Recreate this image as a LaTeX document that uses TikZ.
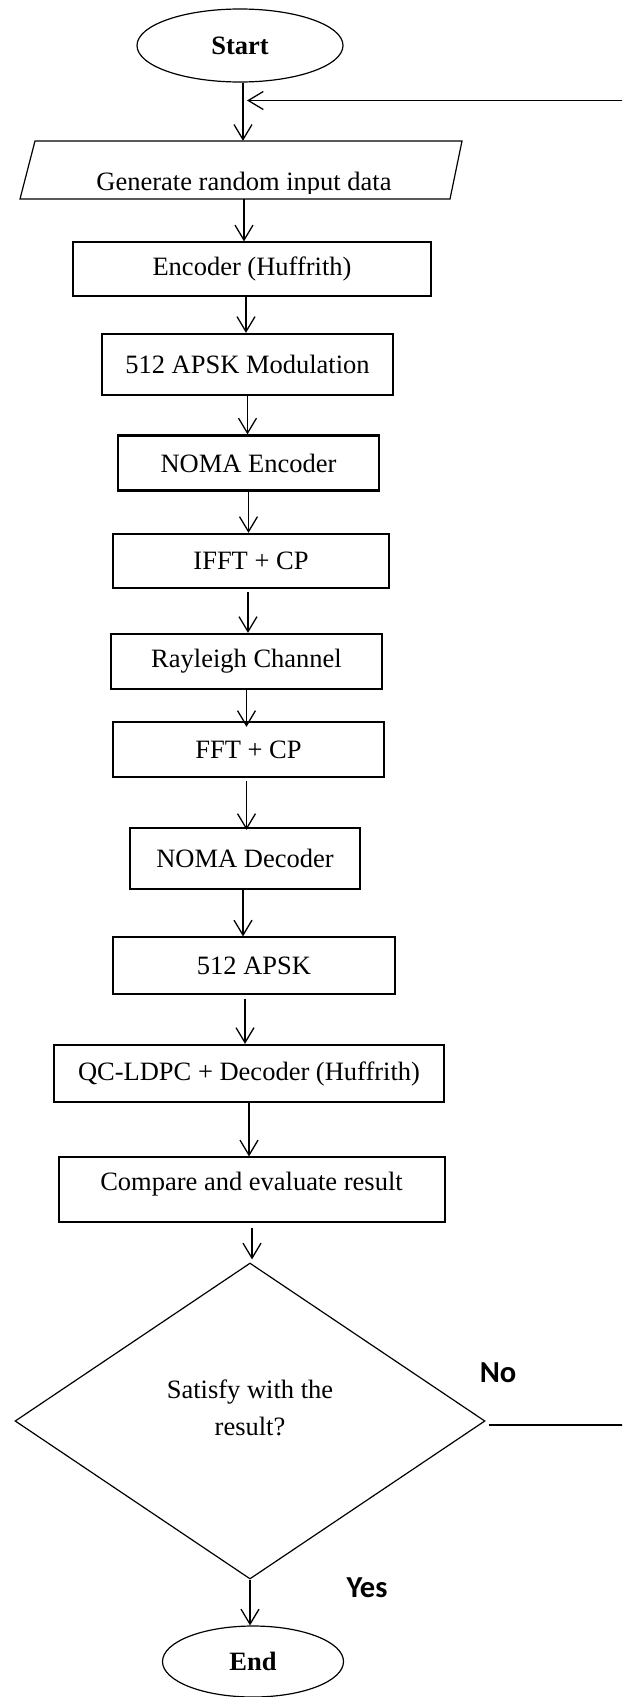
\documentclass[tikz,border=0pt]{standalone}
\usepackage{fontspec}
\setmainfont{Liberation Serif}
\newfontfamily\lblfont{Carlito}
\usetikzlibrary{arrows.meta,shapes.geometric}
\begin{document}
\begin{tikzpicture}[x=1pt,y=-1pt,
  txt/.style={font=\fontsize{26.5}{37}\selectfont},
  thinbox/.style={draw,line width=1.2pt,inner sep=0pt,txt},
  thickbox/.style={draw,line width=2.2pt,inner sep=0pt,txt},
  term/.style={ellipse,draw,line width=1.2pt,inner sep=0pt,font=\bfseries\fontsize{26.5}{30}\selectfont},
  arr/.style={line width=1.3pt,-{Straight Barb[length=15pt,width=18pt]}},
  lbl/.style={font=\lblfont\bfseries\fontsize{30.5}{36}\selectfont}]
\useasboundingbox (0,0) rectangle (622,1697);
\clip (0,0) rectangle (622,1697);

% terminals
\node[term,minimum width=206pt,minimum height=73pt] (start) at (240,45.5) {Start};
\node[term,minimum width=181pt,minimum height=71pt] (end) at (253,1661.5) {End};

% input parallelogram
\node[inner sep=0pt,minimum width=427pt,minimum height=58pt] (gen) at (244,170) {};
\draw[line width=1.2pt] (35,141) -- (462,141) -- (450,199) -- (20,199) -- cycle;
\begin{scope}
  \clip (0,141) rectangle (622,193);
  \node[txt,anchor=base] (gentext) at (244,190) {Generate random input data};
\end{scope}

% process boxes
\node[thinbox, minimum width=358pt,minimum height=54pt] (enc)  at (252,269)    {Encoder (Huffrith)};
\node[thickbox,minimum width=291pt,minimum height=61pt] (mod)  at (247.5,364.5) {512 APSK Modulation};
\node[thickbox,minimum width=261pt,minimum height=55pt] (nenc) at (248.5,463)  {NOMA Encoder};
\node[thickbox,minimum width=276pt,minimum height=54pt] (ifft) at (251,561)    {IFFT + CP};
\node[thickbox,minimum width=271pt,minimum height=55pt] (ray)  at (246.5,661.5) {Rayleigh Channel};
\node[thickbox,minimum width=271pt,minimum height=55pt] (fft)  at (248.5,749.5) {FFT + CP};
\node[thickbox,minimum width=230pt,minimum height=61pt] (ndec) at (245,858.5)  {NOMA Decoder};
\node[thinbox, minimum width=282pt,minimum height=57pt] (apsk) at (254,965.5)  {512 APSK};
\node[thickbox,minimum width=390pt,minimum height=57pt] (qc)   at (249,1073.5) {QC-LDPC + Decoder (Huffrith)};
\node[thinbox, minimum width=386pt,minimum height=65pt] (cmp)  at (252,1189.5) {};
\node[txt] (cmptext) at (251.5,1184) {Compare and evaluate result};

% decision
\node[diamond,draw,line width=1.2pt,inner sep=0pt,minimum width=470pt,minimum height=316pt] (dia) at (250,1421) {};
\node[txt,align=center] (diatext) at (250,1408) {Satisfy with the\\result?};

% labels
\node[lbl] (no) at (498,1373) {No};
\node[lbl] (yes) at (367,1588) {Yes};

% connectors
\draw[arr] ([xshift=3pt]start.south) -- ([xshift=3pt]start.south |- gen.north);
\draw[arr] (gen.south) -- (gen.south |- enc.north);
\draw[arr] ([xshift=-6pt]enc.south) -- ([xshift=-6pt]enc.south |- mod.north);
\draw[arr] (mod.south) -- (mod.south |- nenc.north);
\draw[arr] (nenc.south) -- (nenc.south |- ifft.north);
\draw[arr,shorten <=3pt] ([xshift=-3pt]ifft.south) -- ([xshift=-3pt]ifft.south |- ray.north);
\draw[arr,shorten >=-6pt] (ray.south) -- (ray.south |- fft.north);
\draw[arr,shorten <=3pt,shorten >=-3pt] ([xshift=-2pt]fft.south) -- ([xshift=-2pt]fft.south |- ndec.north);
\draw[arr] ([xshift=-2pt]ndec.south) -- ([xshift=-2pt]ndec.south |- apsk.north);
\draw[arr,shorten <=4pt] ([xshift=-9pt]apsk.south) -- ([xshift=-9pt]apsk.south |- qc.north);
\draw[arr] (qc.south) -- (qc.south |- cmp.north);
\draw[arr,shorten <=5pt,shorten >=3pt] (cmp.south) -- (cmp.south |- dia.north);
\draw[arr] (dia.south) -- (dia.south |- end.north);

% feedback loop (vertical part lies outside the picture)
\coordinate (fbin) at (247,100.5);
\coordinate (fbr1) at (640,1425);
\coordinate (fbr2) at (640,100.5);
\draw[arr] ([shift={(3,4)}]dia.east) -- (fbr1) -- (fbr2) -- (fbin);
\end{tikzpicture}
\end{document}
